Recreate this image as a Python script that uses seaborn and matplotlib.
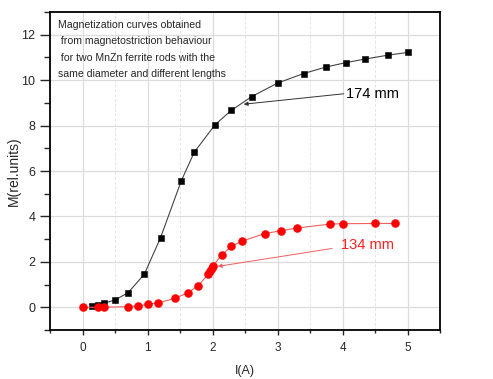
import numpy as np
import pandas as pd
import matplotlib
matplotlib.use("Agg")
import matplotlib.pyplot as plt
import seaborn as sns
from matplotlib.ticker import MultipleLocator

# Data
i_174 = [0.14, 0.24, 0.33, 0.50, 0.70, 0.95, 1.20, 1.52, 1.72, 2.04, 2.29, 2.60,
         3.00, 3.40, 3.75, 4.05, 4.35, 4.70, 5.00]
m_174 = [0.04, 0.08, 0.18, 0.32, 0.64, 1.45, 3.06, 5.57, 6.83, 8.04, 8.67, 9.27,
         9.87, 10.29, 10.58, 10.77, 10.93, 11.10, 11.22]

i_134 = [0.00, 0.24, 0.33, 0.70, 0.86, 1.00, 1.16, 1.42, 1.62, 1.78, 1.93, 1.96,
         1.99, 2.01, 2.14, 2.29, 2.45, 2.80, 3.05, 3.30, 3.80, 4.00, 4.50, 4.80]
m_134 = [0.00, 0.00, 0.00, 0.03, 0.06, 0.13, 0.19, 0.39, 0.64, 0.95, 1.45, 1.60,
         1.72, 1.83, 2.30, 2.68, 2.91, 3.24, 3.37, 3.49, 3.66, 3.68, 3.69, 3.69]

x_ticks = [0, 1, 2, 3, 4, 5]
y_ticks = [0, 2, 4, 6, 8, 10, 12]

note = ("Magnetization curves obtained\n"
        " from magnetostriction behaviour\n"
        " for two MnZn ferrite rods with the\n"
        "same diameter and different lengths")

sns.set_style("white")
plt.rcParams['font.family'] = ['Liberation Sans', 'DejaVu Sans']

fig = plt.figure(figsize=(4.93, 3.79), dpi=100)
ax = fig.add_axes([50/493, 49/379, 390/493, 318/379])

df174 = pd.DataFrame({"I": i_174, "M": m_174})
df134 = pd.DataFrame({"I": i_134, "M": m_134})

sns.lineplot(data=df174, x="I", y="M", ax=ax, color="#444444", lw=0.8, sort=False,
             marker="s", markersize=5.0, markerfacecolor="black",
             markeredgecolor="black", markeredgewidth=0.4, zorder=3)
sns.lineplot(data=df134, x="I", y="M", ax=ax, color="#f06060", lw=0.8, sort=False,
             marker="o", markersize=5.8, markerfacecolor="#ff0000",
             markeredgecolor="#ff0000", markeredgewidth=0.3, zorder=3)

ax.set_xlim(-0.5, 5.5)
ax.set_ylim(-1, 13)
ax.set_xticks(x_ticks)
ax.set_yticks(y_ticks)
ax.xaxis.set_minor_locator(MultipleLocator(0.5))
ax.yaxis.set_minor_locator(MultipleLocator(1))
ax.grid(True, which="major", color="#dcdcdc", lw=0.9, zorder=0)
ax.grid(True, which="minor", axis="x", color="#e4e4e4", lw=0.7, ls=(0, (3, 2)), zorder=0)
ax.set_axisbelow(True)

ax.tick_params(axis="x", which="major", direction="out", length=3.6, width=1,
               labelsize=8.5, bottom=True, pad=5)
ax.tick_params(axis="x", which="minor", direction="out", length=2.2, width=1,
               bottom=True)
ax.tick_params(axis="y", which="major", direction="out", length=7, width=1,
               labelsize=9, left=True, pad=3.5)
ax.tick_params(axis="y", which="minor", direction="out", length=4.3, width=1,
               left=True)
for lab in ax.get_yticklabels():
    lab.set_fontfamily(['Liberation Sans Narrow', 'Liberation Sans', 'DejaVu Sans'])
for s in ax.spines.values():
    s.set_color("black")
    s.set_linewidth(1.3)

ax.set_xlabel("I(A)", fontsize=9, labelpad=8)
ax.set_ylabel("M(rel.units)", fontsize=10)
ax.yaxis.set_label_coords(-0.074, 0.5)

ax.text(0.02, 0.975, note, transform=ax.transAxes, fontsize=7.6, va="top",
        ha="left", linespacing=1.8)

# annotation for 174 mm
ax.annotate("", xy=(2.48, 8.94), xytext=(4.02, 9.4),
            arrowprops=dict(arrowstyle="-|>", color="#333333", lw=0.7,
                            mutation_scale=6, shrinkA=0, shrinkB=0))
ax.text(4.05, 9.38, "174 mm", fontsize=10.5, color="black", va="center", ha="left")

# annotation for 134 mm
ax.annotate("", xy=(2.08, 1.8), xytext=(3.84, 2.59),
            arrowprops=dict(arrowstyle="-|>", color="#f06060", lw=0.7,
                            mutation_scale=6, shrinkA=0, shrinkB=0))
ax.text(3.97, 2.74, "134 mm", fontsize=10.5, color="#ff2020", va="center", ha="left")

fig.savefig("out.png", dpi=100)
